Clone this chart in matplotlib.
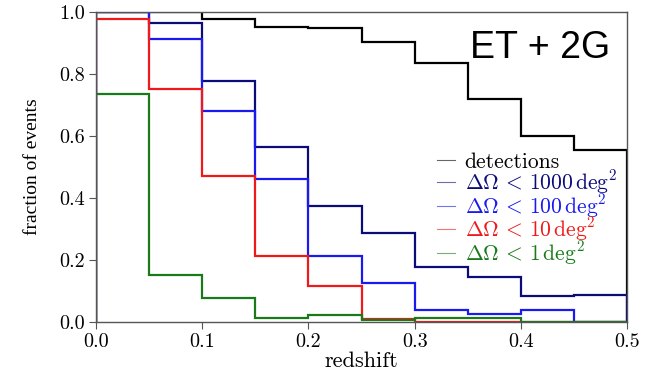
import numpy as np
import matplotlib
matplotlib.use("Agg")
from matplotlib import pyplot as plt
from matplotlib.lines import Line2D

# bins de redshift
bordas = [0.0, 0.05, 0.1, 0.15, 0.2, 0.25, 0.3, 0.35, 0.4, 0.45, 0.5]

deteccoes = [1.0, 1.0, 0.979, 0.953, 0.950, 0.903, 0.835, 0.720, 0.600, 0.555]
omega_1000 = [1.0, 0.964, 0.778, 0.566, 0.374, 0.286, 0.178, 0.145, 0.083, 0.087]
omega_100 = [1.0, 0.913, 0.682, 0.462, 0.211, 0.124, 0.038, 0.025, 0.038, 0.0]
omega_10 = [0.979, 0.752, 0.471, 0.212, 0.116, 0.008, 0.0, 0.0, 0.0, 0.0]
omega_1 = [0.736, 0.151, 0.078, 0.011, 0.022, 0.004, 0.012, 0.012, 0.0, 0.0]

series = [deteccoes, omega_1000, omega_100, omega_10, omega_1]
cores = ["black", "#0b0b7a", "#1a1aee", "#ee1a1a", "#1a7a1a"]
rotulos = ["detections",
           r"$\Delta\Omega\,<\,1000\,\mathrm{deg}^2$",
           r"$\Delta\Omega\,<\,100\,\mathrm{deg}^2$",
           r"$\Delta\Omega\,<\,10\,\mathrm{deg}^2$",
           r"$\Delta\Omega\,<\,1\,\mathrm{deg}^2$"]

plt.rcParams["font.family"] = "serif"
plt.rcParams["font.serif"] = ["cmr10"]
plt.rcParams["mathtext.fontset"] = "cm"
plt.rcParams["axes.unicode_minus"] = False
plt.rcParams["axes.formatter.use_mathtext"] = True

fig = plt.figure(figsize=(6.52, 3.71), dpi=100)
ax = fig.add_axes([0.147, 0.133, 0.815, 0.834])

for valores, cor in zip(series, cores):
    ax.stairs(valores, bordas, color=cor, lw=1.6)

ax.set_xlim(0, 0.5)
ax.set_ylim(0, 1.0)
ax.set_xticks([0.0, 0.1, 0.2, 0.3, 0.4, 0.5])
ax.set_yticks([0.0, 0.2, 0.4, 0.6, 0.8, 1.0])
ax.set_xticklabels(["0.0", "0.1", "0.2", "0.3", "0.4", "0.5"])
ax.set_yticklabels(["0.0", "0.2", "0.4", "0.6", "0.8", "1.0"])
ax.tick_params(labelsize=14.5, length=5, color="#555555", pad=3)
for s in ax.spines.values():
    s.set_color("#555555")
    s.set_linewidth(1.0)

ax.set_xlabel("redshift", fontsize=16, labelpad=0.5)
ax.set_ylabel("fraction of events", fontsize=14, family="Liberation Serif",
              labelpad=13)

# legenda com linhas finas
alcas = [Line2D([], [], color=c, lw=0.8, alpha=0.6) for c in cores]
leg = ax.legend(alcas, rotulos, loc="upper left", bbox_to_anchor=(0.625, 0.575),
                frameon=False, fontsize=15.5, handlelength=0.85, handletextpad=0.45,
                labelspacing=-0.18, borderaxespad=0)
for txt, c in zip(leg.get_texts(), cores):
    txt.set_color(c)

ax.text(0.968, 0.885, "ET + 2G", transform=ax.transAxes, fontsize=27,
        family="Liberation Sans", ha="right", va="center")

plt.savefig("out.png")
